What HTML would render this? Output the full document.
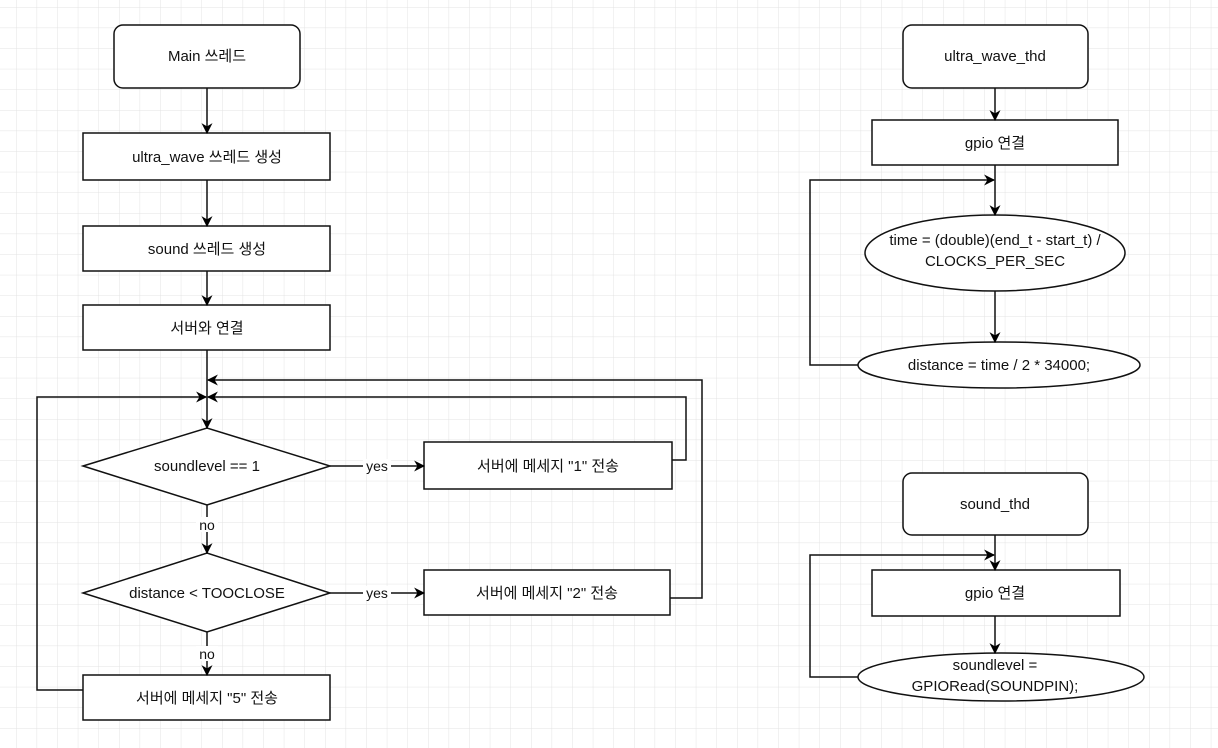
<!DOCTYPE html>
<html><head><meta charset="utf-8"><style>
html,body{margin:0;padding:0;background:#fff;}
svg{display:block;}
text{font-family:"Liberation Sans","Noto Sans CJK KR",sans-serif;font-size:15px;fill:#111;}
</style></head><body>
<svg width="1218" height="748" viewBox="0 0 1218 748" xmlns="http://www.w3.org/2000/svg">
<defs>
<pattern id="g" x="16" y="7" width="20.6" height="20.6" patternUnits="userSpaceOnUse">
<path d="M0 0H20.6M0 0V20.6" stroke="#e3e3e3" stroke-width="1" fill="none"/>
</pattern>
<marker id="a" viewBox="0 0 10 10" refX="9" refY="5" markerWidth="11" markerHeight="11" orient="auto" markerUnits="userSpaceOnUse">
<path d="M0 0L10 5L0 10L3 5Z" fill="#000"/></marker>
</defs>
<rect width="1218" height="748" fill="url(#g)"/>
<g fill="#fff" stroke="#111" stroke-width="1.5">
<rect x="114" y="25" width="186" height="63" rx="9"/>
<rect x="83" y="133" width="247" height="47"/>
<rect x="83" y="226" width="247" height="45"/>
<rect x="83" y="305" width="247" height="45"/>
<polygon points="83,466 207,428 330,466 207,505"/>
<rect x="424" y="442" width="248" height="47"/>
<polygon points="83,593 207,553 330,593 207,632"/>
<rect x="424" y="570" width="246" height="45"/>
<rect x="83" y="675" width="247" height="45"/>
<rect x="903" y="25" width="185" height="63" rx="9"/>
<rect x="872" y="120" width="246" height="45"/>
<ellipse cx="995" cy="253" rx="130" ry="38"/>
<ellipse cx="999" cy="365" rx="141" ry="23"/>
<rect x="903" y="473" width="185" height="62" rx="9"/>
<rect x="872" y="570" width="248" height="46"/>
<ellipse cx="1001" cy="677" rx="143" ry="24"/>
</g>
<g stroke="#111" stroke-width="1.5" fill="none" marker-end="url(#a)">
<path d="M207 88V133"/>
<path d="M207 180V226"/>
<path d="M207 271V305"/>
<path d="M207 350V428"/>
<path d="M672 460H686V397H208"/>
<path d="M670 598H702V380H208"/>
<path d="M83 690H37V397H206"/>
<path d="M207 505V553"/>
<path d="M207 632V675"/>
<path d="M330 466H424"/>
<path d="M330 593H424"/>
<path d="M995 88V120"/>
<path d="M995 165V215"/>
<path d="M995 291V342"/>
<path d="M858 365H810V180H994"/>
<path d="M995 535V570"/>
<path d="M995 616V653"/>
<path d="M858 677H810V555H994"/>
</g>
<g text-anchor="middle">
<text x="207" y="61">Main 쓰레드</text>
<text x="207" y="162">ultra_wave 쓰레드 생성</text>
<text x="207" y="254">sound 쓰레드 생성</text>
<text x="207" y="333">서버와 연결</text>
<text x="207" y="471">soundlevel == 1</text>
<text x="548" y="471">서버에 메세지 "1" 전송</text>
<text x="207" y="598">distance &lt; TOOCLOSE</text>
<text x="547" y="598">서버에 메세지 "2" 전송</text>
<text x="207" y="703">서버에 메세지 "5" 전송</text>
<text x="995" y="61">ultra_wave_thd</text>
<text x="995" y="148">gpio 연결</text>
<text x="995" y="245">time = (double)(end_t - start_t) /</text>
<text x="995" y="266">CLOCKS_PER_SEC</text>
<text x="999" y="370">distance = time / 2 * 34000;</text>
<text x="995" y="509">sound_thd</text>
<text x="995" y="598">gpio 연결</text>
<text x="995" y="670">soundlevel =</text>
<text x="995" y="691">GPIORead(SOUNDPIN);</text>
</g>
<g text-anchor="middle">
<rect x="363" y="459" width="28" height="14" fill="#fff"/>
<text x="377" y="471" style="font-size:14px">yes</text>
<rect x="363" y="586" width="28" height="14" fill="#fff"/>
<text x="377" y="598" style="font-size:14px">yes</text>
<rect x="196" y="517" width="22" height="15" fill="#fff"/>
<text x="207" y="530" style="font-size:14px">no</text>
<rect x="196" y="646" width="22" height="15" fill="#fff"/>
<text x="207" y="659" style="font-size:14px">no</text>
</g>
</svg>
</body></html>
